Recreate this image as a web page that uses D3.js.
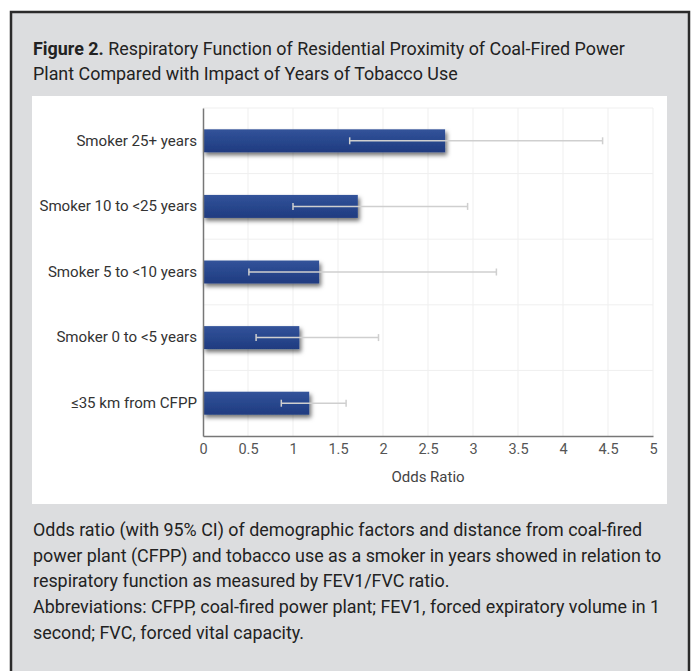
<!DOCTYPE html>
<html><head><meta charset="utf-8">
<script src="https://cdn.jsdelivr.net/npm/d3@7"></script>
<style>
html,body{margin:0;padding:0;background:#fff;}
svg{display:block;font-family:Roboto,"Noto Sans",sans-serif;}
</style></head>
<body>
<svg id="c" width="691" height="671"></svg>
<script>
const categories = ["Smoker 25+ years","Smoker 10 to <25 years","Smoker 5 to <10 years","Smoker 0 to <5 years","≤35 km from CFPP"];
const oddsRatio = [2.69, 1.72, 1.29, 1.07, 1.18];
const ciLow = [1.63, 1.00, 0.51, 0.59, 0.87];
const ciHigh = [4.44, 2.94, 3.26, 1.95, 1.59];
const xTicks = [0,0.5,1,1.5,2,2.5,3,3.5,4,4.5,5];
const titleBold = "Figure 2.";
const titleLine1 = " Respiratory Function of Residential Proximity of Coal-Fired Power";
const titleLine2 = "Plant Compared with Impact of Years of Tobacco Use";
const captionLines = [
 "Odds ratio (with 95% CI) of demographic factors and distance from coal-fired",
 "power plant (CFPP) and tobacco use as a smoker in years showed in relation to",
 "respiratory function as measured by FEV1/FVC ratio.",
 "Abbreviations: CFPP, coal-fired power plant; FEV1, forced expiratory volume in 1",
 "second; FVC, forced vital capacity."
];

const svg = d3.select("#c");
const defs = svg.append("defs");
const grad = defs.append("linearGradient").attr("id","bg").attr("x1",0).attr("y1",0).attr("x2",0).attr("y2",1);
grad.append("stop").attr("offset","0%").attr("stop-color","#32539a");
grad.append("stop").attr("offset","100%").attr("stop-color","#1f3b80");
const f = defs.append("filter").attr("id","sh").attr("x","-10%").attr("y","-30%").attr("width","130%").attr("height","190%");
f.append("feDropShadow").attr("dx",2).attr("dy",3).attr("stdDeviation",2.2).attr("flood-color","#000").attr("flood-opacity",0.55);

// frame
svg.append("rect").attr("x",11).attr("y",12).attr("width",678).attr("height",680)
  .attr("fill","#dcdddf").attr("stroke","#2b2b2b").attr("stroke-width",2.5);
// white panel
svg.append("rect").attr("x",32).attr("y",96).attr("width",635).attr("height",408).attr("fill","#fff");

// title
const t1 = svg.append("text").attr("x",33).attr("y",55).attr("font-size",17.9).attr("fill","#222");
t1.append("tspan").attr("font-weight","bold").text(titleBold);
t1.append("tspan").text(titleLine1);
svg.append("text").attr("x",33).attr("y",80).attr("font-size",17.9).attr("fill","#222").text(titleLine2);

// chart
const m = {l:203, r:653, t:108, b:436};
const x = d3.scaleLinear().domain([0,5]).range([m.l,m.r]);
const y = d3.scaleBand().domain(categories).range([m.t,m.b]).paddingInner(0.65).paddingOuter(0.325);
const yb = d3.scaleBand().domain(categories).range([m.t,m.b]);

const g = svg.append("g");
// grid
g.selectAll(".vg").data(xTicks.slice(1)).join("line")
  .attr("x1",d=>x(d)).attr("x2",d=>x(d)).attr("y1",m.t).attr("y2",m.b)
  .attr("stroke","#efefef").attr("stroke-width",1);
g.selectAll(".hg").data(categories).join("line")
  .attr("x1",m.l).attr("x2",m.r).attr("y1",d=>yb(d)).attr("y2",d=>yb(d))
  .attr("stroke","#efefef").attr("stroke-width",1);

// bars
g.selectAll(".bar").data(categories).join("rect")
  .attr("x",x(0)).attr("y",d=>y(d))
  .attr("width",(d,i)=>x(oddsRatio[i])-x(0)).attr("height",y.bandwidth())
  .attr("fill","url(#bg)").attr("filter","url(#sh)");

// error bars
const eb = g.selectAll(".eb").data(categories).join("g");
eb.append("line").attr("x1",(d,i)=>x(ciLow[i])).attr("x2",(d,i)=>x(ciHigh[i]))
  .attr("y1",d=>y(d)+y.bandwidth()/2).attr("y2",d=>y(d)+y.bandwidth()/2)
  .attr("stroke","#cfcfcf").attr("stroke-width",1.5);
[ciLow,ciHigh].forEach(arr=>{
  eb.append("line").attr("x1",(d,i)=>x(arr[i])).attr("x2",(d,i)=>x(arr[i]))
    .attr("y1",d=>y(d)+y.bandwidth()/2-3.5).attr("y2",d=>y(d)+y.bandwidth()/2+3.5)
    .attr("stroke","#cfcfcf").attr("stroke-width",1.5);
});

// axes
const xa = svg.append("g").attr("transform",`translate(0,${m.b})`)
  .call(d3.axisBottom(x).tickValues(xTicks).tickSize(0).tickPadding(8).tickFormat(d3.format("")));
xa.select(".domain").attr("stroke","#777").attr("stroke-width",1.5);
xa.selectAll("text").attr("font-size",14.5).attr("fill","#555").attr("font-family","Roboto, sans-serif");

const ya = svg.append("g").attr("transform",`translate(${m.l},0)`)
  .call(d3.axisLeft(y).tickSize(0).tickPadding(6));
ya.select(".domain").attr("stroke","#777").attr("stroke-width",1.5);
ya.selectAll("text").attr("font-size",15.1).attr("fill","#333").attr("font-family","Roboto, sans-serif");

svg.append("text").attr("x",(m.l+m.r)/2).attr("y",482).attr("text-anchor","middle")
  .attr("font-size",15).attr("fill","#444").text("Odds Ratio");

// caption
svg.selectAll(".cap").data(captionLines).join("text")
  .attr("x",33).attr("y",(d,i)=>536+i*25.7).attr("font-size",17.9).attr("fill","#222").text(d=>d);
</script>
</body></html>
